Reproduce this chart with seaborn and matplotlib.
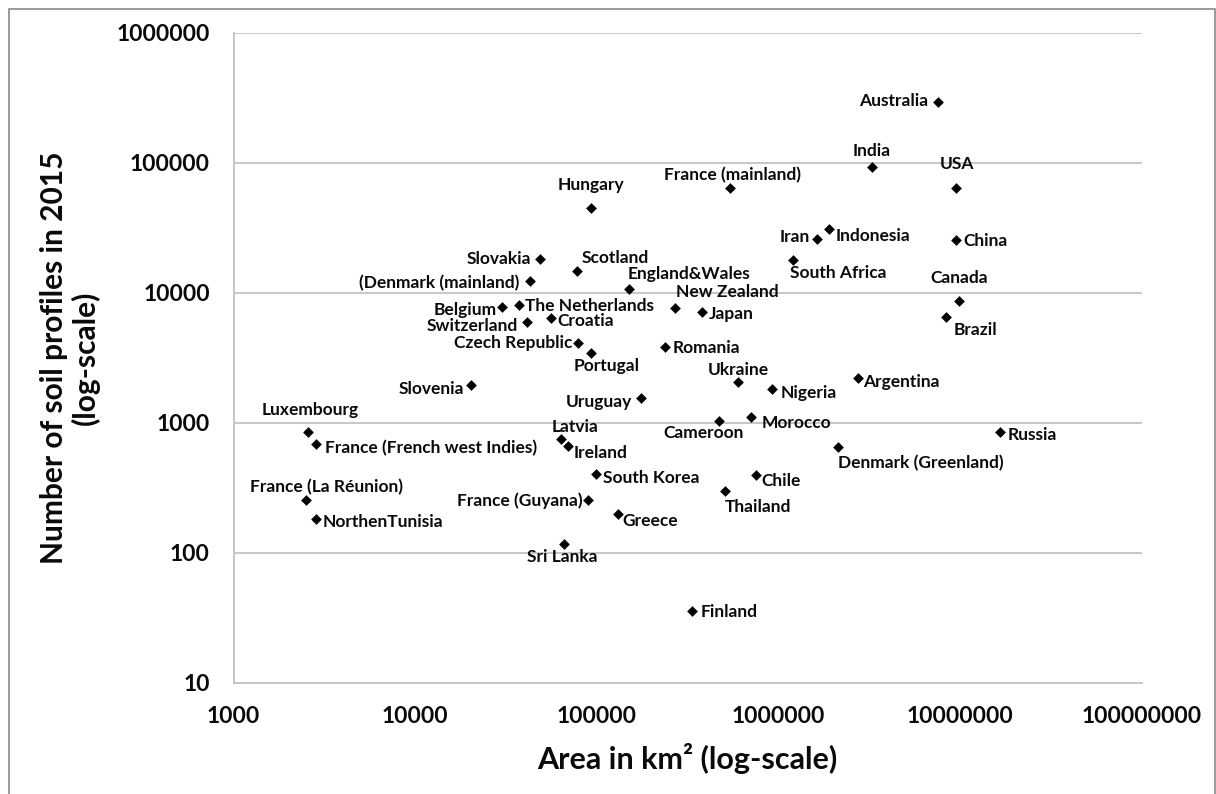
import numpy as np
import pandas as pd
import matplotlib
matplotlib.use("Agg")
import matplotlib.pyplot as plt
from matplotlib.ticker import LogLocator, FuncFormatter, NullLocator
from matplotlib.patches import Rectangle
import seaborn as sns

# ---------------- data ----------------
countries = [
    "Australia", "India", "USA", "France (mainland)", "Hungary", "Iran", "Indonesia",
    "China", "South Africa", "Scotland", "England&Wales", "New Zealand", "Japan",
    "Canada", "Brazil", "Slovakia", "(Denmark (mainland)", "Belgium", "The Netherlands",
    "Switzerland", "Croatia", "Czech Republic", "Portugal", "Romania", "Ukraine",
    "Nigeria", "Argentina", "Uruguay", "Cameroon", "Morocco", "Denmark (Greenland)",
    "Chile", "Thailand", "South Korea", "Greece", "Sri Lanka", "France (Guyana)",
    "Latvia", "Ireland", "Luxembourg", "France (French west Indies)",
    "France (La Réunion)", "NorthenTunisia", "Slovenia", "Russia", "Finland",
]
area_km2 = [
    7550000, 3270000, 9480000, 545000, 92700, 1630000, 1900000,
    9480000, 1210000, 77600, 150600, 270000, 378000,
    9890000, 8410000, 48700, 42900, 30200, 37300,
    41500, 56000, 78500, 92700, 238000, 597000,
    920000, 2750000, 174600, 473000, 708000, 2140000,
    754000, 507000, 99600, 130600, 65800, 89900,
    63500, 69800, 2580, 2840,
    2510, 2840, 20300, 16700000, 336000,
]
soil_profiles = [
    294000, 92300, 63500, 63500, 44900, 25900, 30900,
    25400, 17800, 14600, 10700, 7620, 7110,
    8630, 6470, 18200, 12300, 7730, 8040,
    5920, 6430, 4080, 3420, 3850, 2070,
    1830, 2200, 1550, 1030, 1110, 648,
    398, 299, 403, 197, 116, 254,
    745, 665, 853, 682,
    254, 181, 1950, 853, 35.6,
]
x_ticks = [1e3, 1e4, 1e5, 1e6, 1e7, 1e8]
y_ticks = [1e1, 1e2, 1e3, 1e4, 1e5, 1e6]

# label placement (ha, dx px, dy px down) relative to marker
placement = {
    "Australia": ("right", -10, -2), "India": ("center", 0, -17), "USA": ("center", 1, -25),
    "France (mainland)": ("center", 2, -14), "Hungary": ("center", 0, -24),
    "Iran": ("right", -7, -3), "Indonesia": ("left", 7, 6), "China": ("left", 8, 0),
    "South Africa": ("left", -3, 12), "Scotland": ("left", 5, -14),
    "England&Wales": ("left", -1, -16), "New Zealand": ("left", 1, -17),
    "Japan": ("left", 7, 1), "Canada": ("center", 0, -24), "Brazil": ("left", 7, 12),
    "Slovakia": ("right", -9, -1), "(Denmark (mainland)": ("right", -11, 1),
    "Belgium": ("right", -6, 2), "The Netherlands": ("left", 6, 0),
    "Switzerland": ("right", -9, 3), "Croatia": ("left", 6, 2),
    "Czech Republic": ("right", -5, -1), "Portugal": ("center", 16, 12),
    "Romania": ("left", 8, 0), "Ukraine": ("center", 1, -13), "Nigeria": ("left", 9, 3),
    "Argentina": ("left", 5, 3), "Uruguay": ("right", -9, 3),
    "Cameroon": ("center", -16, 11), "Morocco": ("left", 11, 5),
    "Denmark (Greenland)": ("left", 0, 15), "Chile": ("left", 5, 5),
    "Thailand": ("left", 0, 15), "South Korea": ("left", 7, 3), "Greece": ("left", 5, 6),
    "Sri Lanka": ("center", -1, 12), "France (Guyana)": ("right", -6, 0),
    "Latvia": ("center", 14, -13), "Ireland": ("left", 5, 6),
    "Luxembourg": ("center", 2, -23), "France (French west Indies)": ("left", 9, 3),
    "France (La Réunion)": ("center", 20, -14), "NorthenTunisia": ("left", 7, 2),
    "Slovenia": ("right", -7, 3), "Russia": ("left", 7, 2), "Finland": ("left", 8, 0),
}

df = pd.DataFrame({"country": countries, "area": area_km2, "profiles": soil_profiles})

# ---------------- style ----------------
sns.set_theme(style="white")
plt.rcParams["font.family"] = ["Lato", "DejaVu Sans"]
plt.rcParams["font.weight"] = "bold"

W, H = 1216, 794
fig = plt.figure(figsize=(W / 100, H / 100), dpi=100)
left, right, top, bottom = 233.5, 1141.5, 32.7, 682.7
ax = fig.add_axes([left / W, 1 - bottom / H, (right - left) / W, (bottom - top) / H])

sns.scatterplot(data=df, x="area", y="profiles", marker="D", color="black",
                s=30, linewidth=0, ax=ax, legend=False, zorder=3)

ax.set_xscale("log")
ax.set_yscale("log")
ax.set_xlim(x_ticks[0], x_ticks[-1])
ax.set_ylim(y_ticks[0], y_ticks[-1])
ax.xaxis.set_major_locator(LogLocator(base=10, numticks=20))
ax.yaxis.set_major_locator(LogLocator(base=10, numticks=20))
ax.xaxis.set_minor_locator(NullLocator())
ax.yaxis.set_minor_locator(NullLocator())
fmt = FuncFormatter(lambda v, p: f"{int(round(v))}")
ax.xaxis.set_major_formatter(fmt)
ax.yaxis.set_major_formatter(fmt)

grid_c = "#c6c6c6"
ax.yaxis.grid(True, color=grid_c, linewidth=1.4)
ax.xaxis.grid(False)
for s in ["top", "right"]:
    ax.spines[s].set_visible(False)
for s in ["left", "bottom"]:
    ax.spines[s].set_color(grid_c)
    ax.spines[s].set_linewidth(1.4)
ax.tick_params(axis="both", which="major", direction="out", length=6, width=1.2,
               color=grid_c, labelsize=16.5, pad=11, labelcolor="#0a0a0a")
for lab in ax.get_xticklabels() + ax.get_yticklabels():
    lab.set_fontweight("bold")

ax.set_xlabel("")
ax.set_ylabel("")

for name, xv, yv in zip(countries, area_km2, soil_profiles):
    ha, dx, dy = placement[name]
    ax.annotate(name, xy=(xv, yv), xytext=(dx, -(dy + 1)), textcoords="offset pixels",
                ha=ha, va="center", fontsize=12.5, fontweight="bold", color="#0a0a0a",
                zorder=4)

fig.text(687.5 / W, 1 - 759 / H, "Area in km² (log-scale)", ha="center", va="center",
         fontsize=22, fontweight="bold", color="#0a0a0a")
fig.text(70 / W, 1 - 357.7 / H, "Number of soil profiles in 2015\n(log-scale)",
         ha="center", va="center", rotation=90, multialignment="center",
         fontsize=21.5, fontweight="bold", color="#0a0a0a", linespacing=1.15)

fig.add_artist(Rectangle((8.5 / W, -0.05), (1214.5 - 8.5) / W, 1.05 - 8.5 / H,
                         transform=fig.transFigure, fill=False, edgecolor="#8a8a8a",
                         linewidth=1.2, clip_on=False))

fig.savefig("out.png", dpi=100)
